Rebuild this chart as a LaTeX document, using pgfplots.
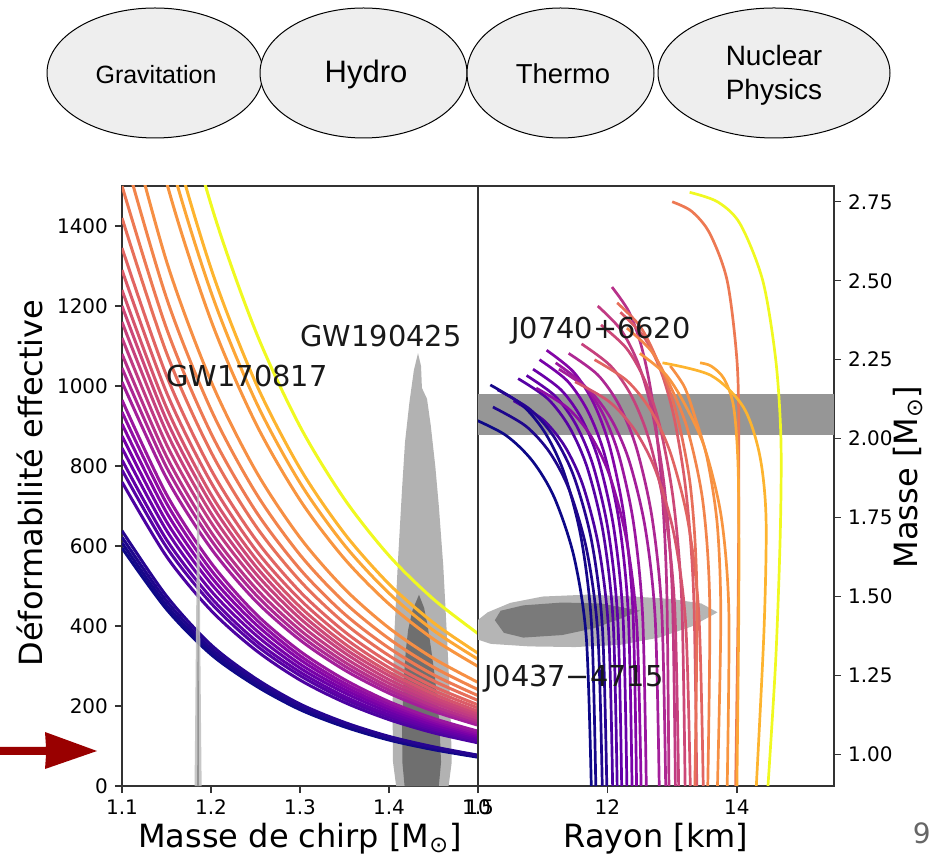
\documentclass[border=0pt]{standalone}
\usepackage{fontspec}
\setmainfont{DejaVu Sans}
\newfontfamily\arialfont{Liberation Sans}
\usepackage{pgfplots}
\usepackage{pgfplotstable}
\pgfplotsset{compat=1.18}

\definecolor{cB1}{HTML}{0D0887}\definecolor{cB2}{HTML}{160789}\definecolor{cB3}{HTML}{1E068C}\definecolor{cB4}{HTML}{260591}
\definecolor{cP1}{HTML}{4C02A1}\definecolor{cP2}{HTML}{5602A4}\definecolor{cP3}{HTML}{6100A7}\definecolor{cP4}{HTML}{6A00A8}
\definecolor{cP5}{HTML}{7701A8}\definecolor{cP6}{HTML}{8405A7}\definecolor{cP7}{HTML}{8F0DA4}\definecolor{cP8}{HTML}{9A169F}
\definecolor{cK1}{HTML}{A31E9A}\definecolor{cK2}{HTML}{AD2793}\definecolor{cK3}{HTML}{B7318A}\definecolor{cK4}{HTML}{C03A83}
\definecolor{cK5}{HTML}{C6417D}\definecolor{cK6}{HTML}{CC4778}\definecolor{cK7}{HTML}{D5546E}\definecolor{cK8}{HTML}{DB5C68}
\definecolor{cK9}{HTML}{E16462}
\definecolor{cO1}{HTML}{E76F5A}\definecolor{cO2}{HTML}{ED7953}\definecolor{cO3}{HTML}{F2844B}\definecolor{cO4}{HTML}{F68F44}
\definecolor{cO5}{HTML}{F89540}\definecolor{cO6}{HTML}{FCA636}\definecolor{cO7}{HTML}{FDB42F}
\definecolor{cY}{HTML}{F0F921}
\definecolor{axcol}{HTML}{333333}
\definecolor{ellfill}{HTML}{EEEEEE}
\definecolor{arrowred}{HTML}{990000}
\definecolor{lightgw}{HTML}{B2B2B2}
\definecolor{darkgw}{HTML}{6F6F6F}
\definecolor{slivl}{HTML}{BDBDBD}
\definecolor{slivd}{HTML}{8A8A8A}
\definecolor{bandgray}{HTML}{969696}
\definecolor{jlight}{HTML}{B5B5B5}
\definecolor{jdark}{HTML}{7A7A7A}

% Effective tidal deformability vs chirp mass
\pgfplotstableread{
M B1 B2 B3 B4 P1 P2 P3 P4 P5 P6 P7 P8 K1 K2 K3 K4 K5 K6 K7 K8 K9 O1 O2 O3 O4 O5 O6 O7 Y
1.10 595 608 622 638 760 790 815 845 875 905 935 965 1010 1045 1080 1120 1160 1200 1240 1290 1345 1420 1500 1600 1720 1980 2100 2200 2450
1.15 442 452 463 475 574 597 616 639 661 684 707 729 770 797 824 854 885 915 946 984 1026 1083 1144 1220 1312 1510 1601 1678 1876
1.20 329 336 344 353 439 457 471 488 506 523 540 558 594 615 635 659 682 706 729 759 791 835 882 941 1012 1164 1235 1294 1454
1.25 251 256 262 269 340 353 364 378 391 405 418 431 463 479 495 514 532 550 569 591 617 651 688 734 789 908 963 1009 1138
1.30 191 195 200 205 265 276 285 295 305 316 326 337 365 377 390 404 419 433 448 466 486 513 542 578 621 715 758 794 899
1.35 148 152 156 159 209 217 224 233 241 249 257 266 290 300 310 321 333 344 356 370 386 407 430 459 493 568 602 631 717
1.40 115 118 121 124 166 173 178 185 192 198 205 211 232 240 248 257 266 276 285 296 309 326 345 368 395 455 482 505 576
1.45 91 93 96 98 133 139 143 148 153 159 164 169 187 194 200 208 215 222 230 239 249 263 278 297 319 367 389 408 467
1.50 72 74 76 77 108 112 115 120 124 128 132 137 152 158 163 169 175 181 187 195 203 214 226 241 259 299 317 332 381
}\lamtable

\begin{document}
\begin{tikzpicture}
\useasboundingbox (0,0) rectangle (466pt,428.5pt);

% top ellipses
\draw[fill=ellfill, line width=0.5pt] (77.5pt,392pt) ellipse [x radius=54pt, y radius=32.5pt];
\draw[fill=ellfill, line width=0.5pt] (181.75pt,392pt) ellipse [x radius=51.75pt, y radius=32.5pt];
\draw[fill=ellfill, line width=0.5pt] (280.25pt,392pt) ellipse [x radius=46.75pt, y radius=32.5pt];
\draw[fill=ellfill, line width=0.5pt] (387pt,392pt) ellipse [x radius=58pt, y radius=32.5pt];
\node[font=\arialfont\fontsize{12.5}{15}\selectfont] at (78pt,391pt) {Gravitation};
\node[font=\arialfont\fontsize{15.5}{18}\selectfont] at (183pt,391.5pt) {Hydro};
\node[font=\arialfont\fontsize{13.7}{16}\selectfont] at (281.5pt,391.5pt) {Thermo};
\node[font=\arialfont\fontsize{14}{17}\selectfont, align=center] at (387pt,391pt) {Nuclear\\Physics};

% red arrow
\fill[arrowred] (0pt,51pt) -- (23pt,51pt) -- (22.5pt,44pt) -- (48.5pt,53pt) -- (22.5pt,62.5pt) -- (23pt,55pt) -- (0pt,55pt) -- cycle;

% page number
\node[anchor=east, text=black!60, font=\fontsize{14}{17}\selectfont, inner sep=0pt] at (465.5pt,12pt) {9};

% ---------------- left panel ----------------
\begin{axis}[
  at={(61pt,35.5pt)}, anchor=south west,
  scale only axis, width=178pt, height=300pt,
  xmin=1.1, xmax=1.5, ymin=0, ymax=1500,
  xtick={1.1,1.2,1.3,1.4,1.5}, ytick={0,200,400,600,800,1000,1200,1400},
  xtick pos=bottom, ytick pos=left,
  tick align=outside, major tick length=3.5pt,
  every tick/.style={color=axcol, line width=0.6pt},
  axis line style={color=axcol, line width=0.8pt},
  /pgf/number format/assume math mode=true,
  xticklabel style={/pgf/number format/.cd, fixed, fixed zerofill, precision=1},
  yticklabel style={/pgf/number format/.cd, fixed, set thousands separator={}},
  tick label style={font=\fontsize{10}{12}\selectfont, text=black},
  xlabel={Masse de chirp [M\textsubscript{⊙}]},
  ylabel={Déformabilité effective},
  label style={font=\fontsize{16}{19}\selectfont},
  xlabel style={at={(axis description cs:0.5,-0.087)}, anchor=center},
  ylabel style={at={(axis description cs:-0.258,0.505)}, anchor=center},
  every axis plot/.append style={line width=1.5pt},
]
% GW190425 posterior
\addplot[fill=lightgw, draw=none] coordinates {(1.408,0) (1.4045,60) (1.4040,200) (1.4060,380) (1.4100,560) (1.4146,740) (1.418,860) (1.423,960) (1.428,1040) (1.4326,1082) (1.436,1050) (1.437,995) (1.4427,968) (1.447,900) (1.452,800) (1.456,700) (1.461,550) (1.465,380) (1.469,200) (1.4705,60) (1.467,0)} -- cycle;
\addplot[fill=darkgw, draw=none] coordinates {(1.4175,0) (1.415,60) (1.4148,150) (1.4165,265) (1.419,340) (1.4215,390) (1.4265,440) (1.4337,478) (1.4395,445) (1.4435,400) (1.4475,340) (1.452,265) (1.4565,160) (1.4585,60) (1.456,0)} -- cycle;

\addplot[smooth, color=cP1] table[x=M,y=P1]{\lamtable};
\addplot[smooth, color=cP2] table[x=M,y=P2]{\lamtable};
\addplot[smooth, color=cP3] table[x=M,y=P3]{\lamtable};
\addplot[smooth, color=cP4] table[x=M,y=P4]{\lamtable};
\addplot[smooth, color=cP5] table[x=M,y=P5]{\lamtable};
\addplot[smooth, color=cP6] table[x=M,y=P6]{\lamtable};
\addplot[smooth, color=cP7] table[x=M,y=P7]{\lamtable};
\addplot[smooth, color=cP8] table[x=M,y=P8]{\lamtable};
\addplot[smooth, color=cK1] table[x=M,y=K1]{\lamtable};
\addplot[smooth, color=cK2] table[x=M,y=K2]{\lamtable};
\addplot[smooth, color=cK3] table[x=M,y=K3]{\lamtable};
\addplot[smooth, color=cK4] table[x=M,y=K4]{\lamtable};
\addplot[smooth, color=cK5] table[x=M,y=K5]{\lamtable};
\addplot[smooth, color=cK6] table[x=M,y=K6]{\lamtable};
\addplot[smooth, color=cK7] table[x=M,y=K7]{\lamtable};
\addplot[smooth, color=cK8] table[x=M,y=K8]{\lamtable};
\addplot[smooth, color=cK9] table[x=M,y=K9]{\lamtable};
\addplot[smooth, color=cO1] table[x=M,y=O1]{\lamtable};
\addplot[smooth, color=cO2] table[x=M,y=O2]{\lamtable};
\addplot[smooth, color=cO3] table[x=M,y=O3]{\lamtable};
\addplot[smooth, color=cO4] table[x=M,y=O4]{\lamtable};
\addplot[smooth, color=cO5] table[x=M,y=O5]{\lamtable};
\addplot[smooth, color=cO6] table[x=M,y=O6]{\lamtable};
\addplot[smooth, color=cO7] table[x=M,y=O7]{\lamtable};
\addplot[smooth, color=cY] table[x=M,y=Y]{\lamtable};
\addplot[smooth, color=cB1] table[x=M,y=B1]{\lamtable};
\addplot[smooth, color=cB2] table[x=M,y=B2]{\lamtable};
\addplot[smooth, color=cB3] table[x=M,y=B3]{\lamtable};
\addplot[smooth, color=cB4] table[x=M,y=B4]{\lamtable};

% GW170817 posterior
\addplot[fill=slivl, draw=none, opacity=0.85] coordinates {(1.1815,0) (1.1822,150) (1.1832,400) (1.1843,650) (1.1855,830) (1.1868,650) (1.1878,400) (1.1888,150) (1.1895,0)} -- cycle;
\addplot[fill=slivd, draw=none, opacity=0.85] coordinates {(1.1845,0) (1.1848,300) (1.1855,520) (1.1862,300) (1.1865,0)} -- cycle;

\node[font=\fontsize{14.4}{17}\selectfont, text=black!90] at (axis cs:1.2405,1025) {GW170817};
\node[font=\fontsize{14.4}{17}\selectfont, text=black!90] at (axis cs:1.391,1125) {GW190425};
\end{axis}

% ---------------- right panel ----------------
\begin{axis}[
  at={(239pt,35.5pt)}, anchor=south west,
  scale only axis, width=178pt, height=300pt,
  xmin=10, xmax=15.5, ymin=0.9, ymax=2.8,
  xtick={10,12,14}, ytick={1,1.25,1.5,1.75,2,2.25,2.5,2.75},
  xtick pos=bottom, ytick pos=right, yticklabel pos=right,
  tick align=outside, major tick length=3.5pt,
  every tick/.style={color=axcol, line width=0.6pt},
  axis line style={color=axcol, line width=0.8pt},
  /pgf/number format/assume math mode=true,
  yticklabel style={/pgf/number format/.cd, fixed, fixed zerofill, precision=2},
  tick label style={font=\fontsize{10}{12}\selectfont, text=black},
  xlabel={Rayon [km]},
  ylabel={Masse [M\textsubscript{⊙}]},
  label style={font=\fontsize{16}{19}\selectfont},
  xlabel style={at={(axis description cs:0.5,-0.087)}, anchor=center},
  ylabel style={at={(axis description cs:1.208,0.515)}, anchor=center},
  every axis plot/.append style={line width=1.35pt},
]
% J0740+6620 band
\addplot[fill=bandgray, draw=none] coordinates {(9,2.01) (16,2.01) (16,2.14) (9,2.14)} -- cycle;
% J0437-4715 contours
\addplot[fill=jlight, draw=none] coordinates {(9.9,1.37) (10.2,1.35) (10.8,1.342) (11.5,1.34) (12.2,1.347) (12.8,1.37) (13.3,1.405) (13.7,1.45) (13.45,1.478) (13.0,1.492) (12.4,1.5) (11.7,1.506) (11.0,1.5) (10.5,1.48) (10.15,1.45) (9.9,1.41)} -- cycle;
\addplot[fill=jdark, draw=none] coordinates {(10.26,1.425) (10.35,1.455) (10.7,1.472) (11.3,1.481) (11.9,1.478) (12.5,1.455) (12.2,1.43) (11.8,1.40) (11.3,1.378) (10.7,1.37) (10.4,1.385)} -- cycle;

\addplot[smooth, color=cP1] coordinates {(12.08,0.9) (12.019,1.388) (11.866,1.656) (11.621,1.852) (11.346,1.974) (11.009,2.059) (10.55,2.12)};
\addplot[smooth, color=cP2] coordinates {(12.15,0.9) (12.089,1.416) (11.936,1.70) (11.691,1.906) (11.416,2.035) (11.079,2.126) (10.62,2.19)};
\addplot[smooth, color=cP3] coordinates {(12.22,0.9) (12.161,1.42) (12.014,1.706) (11.779,1.914) (11.514,2.044) (11.191,2.135) (10.75,2.20)};
\addplot[smooth, color=cP4] coordinates {(12.3,0.9) (12.242,1.428) (12.097,1.718) (11.865,1.93) (11.604,2.062) (11.285,2.154) (10.85,2.22)};
\addplot[smooth, color=cP5] coordinates {(12.38,0.9) (12.323,1.44) (12.18,1.737) (11.951,1.953) (11.694,2.088) (11.379,2.183) (10.95,2.25)};
\addplot[smooth, color=cP6] coordinates {(12.45,0.9) (12.394,1.452) (12.255,1.756) (12.033,1.976) (11.783,2.114) (11.477,2.211) (11.06,2.28)};
\addplot[smooth, color=cP7] coordinates {(12.52,0.9) (12.455,1.404) (12.293,1.681) (12.034,1.883) (11.742,2.009) (11.386,2.097) (10.9,2.16)};
\addplot[smooth, color=cP8] coordinates {(12.6,0.9) (12.544,1.436) (12.404,1.731) (12.18,1.945) (11.928,2.079) (11.62,2.173) (11.2,2.24)};
\addplot[smooth, color=cK1] coordinates {(12.8,0.9) (12.738,1.428) (12.583,1.718) (12.335,1.93) (12.056,2.062) (11.715,2.154) (11.25,2.22)};
\addplot[smooth, color=cK2] coordinates {(12.9,0.9) (12.84,1.448) (12.69,1.749) (12.45,1.969) (12.18,2.106) (11.85,2.202) (11.4,2.27)};
\addplot[smooth, color=cK3] coordinates {(12.95,0.9) (12.915,1.532) (12.827,1.88) (12.686,2.132) (12.528,2.29) (12.334,2.401) (12.07,2.48)};
\addplot[smooth, color=cK4] coordinates {(13.05,0.9) (13.002,1.508) (12.882,1.842) (12.69,2.086) (12.474,2.238) (12.21,2.344) (11.85,2.42)};
\addplot[smooth, color=cK5] coordinates {(13.1,0.9) (13.04,1.46) (12.89,1.768) (12.65,1.992) (12.38,2.132) (12.05,2.23) (11.6,2.30)};
\addplot[smooth, color=cK6] coordinates {(13.2,0.9) (13.148,1.484) (13.018,1.805) (12.81,2.039) (12.576,2.185) (12.29,2.287) (11.9,2.36)};
\addplot[smooth, color=cK7] coordinates {(13.28,0.9) (13.209,1.412) (13.031,1.694) (12.746,1.898) (12.426,2.026) (12.034,2.116) (11.5,2.18)};
\addplot[smooth, color=cK8] coordinates {(13.38,0.9) (13.333,1.50) (13.215,1.83) (13.026,2.07) (12.814,2.22) (12.554,2.325) (12.2,2.40)};
\addplot[smooth, color=cK9] coordinates {(13.48,0.9) (13.413,1.44) (13.245,1.737) (12.976,1.953) (12.674,2.088) (12.304,2.183) (11.8,2.25)};
\addplot[smooth, color=cO1] coordinates {(13.35,0.9) (13.382,1.512) (13.282,1.849) (13.05,2.093) (12.774,2.246) (12.51,2.354) (12.15,2.43)};
\addplot[smooth, color=cO2] coordinates {(13.98,0.9) (14.02,1.5) (14.03,2.0) (14.0,2.25) (13.85,2.5) (13.58,2.65) (13.3,2.72) (13.0,2.75)};
\addplot[smooth, color=cO3] coordinates {(13.55,0.9) (13.58,1.48) (13.475,1.799) (13.235,2.031) (12.95,2.176) (12.675,2.278) (12.3,2.35)};
\addplot[smooth, color=cO4] coordinates {(13.7,0.9) (13.751,1.432) (13.698,1.725) (13.541,1.937) (13.35,2.07) (13.189,2.164) (12.97,2.23)};
\addplot[smooth, color=cO5] coordinates {(13.85,0.9) (13.876,1.448) (13.761,1.749) (13.505,1.969) (13.202,2.106) (12.905,2.202) (12.5,2.27)};
\addplot[smooth, color=cO6] coordinates {(14.0,0.9) (14.03,1.5) (14.02,1.9) (13.95,2.1) (13.8,2.19) (13.6,2.23) (13.43,2.24)};
\addplot[smooth, color=cO7] coordinates {(14.3,0.9) (14.42,1.4) (14.45,1.75) (14.35,1.95) (14.1,2.1) (13.6,2.2) (12.85,2.24)};
\addplot[smooth, color=cY] coordinates {(14.48,0.9) (14.6,1.3) (14.67,1.7) (14.68,2.0) (14.6,2.25) (14.4,2.5) (14.05,2.68) (13.7,2.75) (13.27,2.78)};
\addplot[smooth, color=cB1] coordinates {(11.75,0.9) (11.674,1.368) (11.484,1.625) (11.18,1.813) (10.838,1.93) (10.42,2.012) (9.85,2.07)};
\addplot[smooth, color=cB2] coordinates {(11.82,0.9) (11.755,1.408) (11.592,1.687) (11.331,1.891) (11.038,2.018) (10.679,2.107) (10.19,2.17)};
\addplot[smooth, color=cB3] coordinates {(11.92,0.9) (11.852,1.38) (11.683,1.644) (11.413,1.836) (11.109,1.956) (10.737,2.04) (10.23,2.10)};
\addplot[smooth, color=cB4] coordinates {(11.99,0.9) (11.922,1.402) (11.753,1.678) (11.483,1.879) (11.179,2.004) (10.807,2.092) (10.3,2.155)};

\node[font=\fontsize{14.4}{17}\selectfont, text=black!90] at (axis cs:11.9,2.342) {J0740+6620};
\node[font=\fontsize{14.4}{17}\selectfont, text=black!90] at (axis cs:11.48,1.241) {J0437−4715};
\end{axis}
\end{tikzpicture}
\end{document}
